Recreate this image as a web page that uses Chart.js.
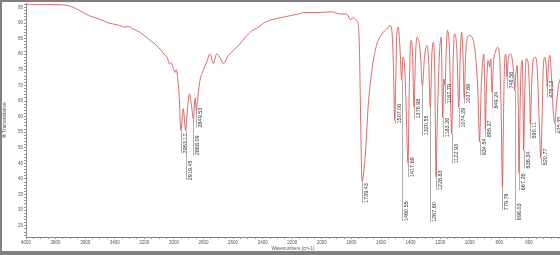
<!DOCTYPE html>
<html>
<head>
<meta charset="utf-8">
<script src="https://cdn.jsdelivr.net/npm/chart.js@4.4.1/dist/chart.umd.min.js"></script>
<style>
	html, body { margin: 0; padding: 0; background: #fff; }
</style>
</head>
<body>
<canvas id="ir" width="560" height="255"></canvas>
<script>
"use strict";

var wavenumbers = [
	4000, 3900, 3800, 3740, 3700, 3660, 3620, 3570, 3500, 3440, 3380, 3330, 3310, 3280, 3230, 3190,
	3160, 3120, 3085, 3060, 3045, 3031, 3018, 3004, 2991, 2984, 2973, 2964, 2953, 2937, 2921, 2908,
	2896, 2883, 2868, 2860, 2856, 2849, 2838, 2824, 2802, 2779, 2756, 2734, 2711, 2684, 2666, 2632,
	2599, 2553, 2521, 2476, 2431, 2386, 2318, 2250, 2160, 2115, 2024, 1934, 1878, 1832, 1805, 1788,
	1770, 1756, 1746, 1738, 1731, 1727, 1720, 1709, 1697, 1686, 1670, 1652, 1635, 1619, 1585, 1551,
	1540, 1528, 1517, 1507, 1500, 1494, 1483, 1472, 1460, 1452, 1443, 1432, 1417, 1410, 1398, 1388,
	1376, 1368, 1357, 1337, 1320, 1306, 1290, 1278, 1267, 1256, 1245, 1236, 1228, 1220, 1205, 1193,
	1183, 1175, 1167, 1160, 1152, 1138, 1122, 1112, 1104, 1088, 1074, 1064, 1055, 1046, 1037, 1028,
	1005, 985, 960, 945, 934, 922, 910, 905, 899, 895, 888, 876, 865, 858, 849, 840,
	825, 812, 798, 788, 779, 772, 764, 756, 748, 740, 726, 712, 702, 696, 688, 680,
	672, 667, 660, 652, 645, 641, 636, 628, 618, 605, 596, 590, 582, 570, 558, 545,
	530, 520, 510, 503, 492, 482, 476, 468, 458, 448, 436, 425, 414, 400, 390
];
var transmittance = [
	96.0, 96.0, 95.9, 95.8, 95.4, 94.6, 93.5, 92.3, 91.2, 90.0, 89.4, 88.7, 88.9, 88.2, 87.0, 85.6,
	84.4, 82.9, 81.2, 79.6, 79.0, 76.9, 77.3, 75.4, 74.2, 75.0, 71.6, 66.0, 55.6, 62.5, 55.6, 62.5,
	67.3, 64.2, 59.3, 65.0, 66.0, 62.0, 66.5, 71.6, 74.8, 77.4, 80.1, 77.0, 80.1, 78.5, 77.0, 79.6,
	81.2, 83.3, 85.2, 87.4, 88.6, 90.2, 91.3, 92.0, 92.9, 93.4, 93.4, 93.6, 92.9, 92.9, 91.0, 91.8,
	91.0, 90.0, 82.0, 60.0, 42.0, 39.2, 41.0, 46.0, 55.0, 64.0, 71.6, 78.0, 82.0, 84.4, 87.0, 88.6,
	89.2, 88.1, 78.0, 58.8, 72.0, 86.0, 88.6, 82.0, 71.6, 79.0, 78.0, 66.0, 45.0, 66.0, 84.4, 81.5,
	63.0, 78.0, 85.4, 82.0, 70.0, 79.0, 82.8, 78.0, 63.0, 80.0, 83.8, 72.0, 40.7, 58.0, 80.1, 85.4,
	59.7, 72.0, 70.0, 80.0, 87.6, 82.0, 54.6, 78.0, 86.5, 82.0, 63.0, 80.0, 87.0, 80.0, 65.8, 80.0,
	86.0, 85.5, 79.0, 68.0, 52.0, 70.0, 79.0, 80.1, 70.0, 56.0, 68.0, 78.0, 76.0, 78.5, 67.8, 77.0,
	81.0, 82.2, 79.0, 62.0, 37.5, 60.0, 78.0, 80.0, 72.6, 78.5, 80.1, 78.0, 73.0, 68.4, 74.0, 76.5,
	62.0, 41.8, 62.0, 76.0, 78.0, 70.0, 49.2, 68.0, 78.6, 77.0, 68.0, 57.5, 70.0, 78.5, 79.0, 76.0,
	58.0, 46.8, 62.0, 76.0, 79.0, 75.0, 69.5, 77.0, 79.6, 73.0, 62.0, 57.8, 64.0, 70.0, 72.0
];

// peak picks : marker position, printed value, %T where the label ends
var peakWn = [2953, 2921, 2868, 2849, 1727, 1507, 1460, 1417, 1376, 1320, 1267, 1228, 1183, 1167, 1122,
	1074, 1037, 934, 895, 849, 779, 748, 696, 667, 636, 590, 520, 476, 425];
var peakText = ["2953.17", "2919.45", "2868.09", "2849.53", "1739.43", "1507.06", "1460.55", "1417.69",
	"1376.98", "1320.55", "1267.60", "1228.83", "1183.26", "1167.79", "1122.93", "1074.29", "1037.66",
	"934.54", "895.37", "849.24", "779.76", "748.56", "696.03", "667.26", "636.34", "590.11", "520.77",
	"476.12", "425.35"];
var peakLabelEnd = [48.2, 39.6, 47.6, 56.5, 32.3, 57.8, 26.5, 40.6, 59.4, 54.0, 26.2, 36.4, 53.4, 64.2, 45.0,
	56.5, 64.2, 47.6, 53.4, 62.6, 30.0, 69.0, 26.8, 36.4, 43.4, 53.0, 44.4, 66.1, 54.6];

// axis ticks
var xTickLabels = [4000, 3800, 3600, 3400, 3200, 3000, 2800, 2600, 2400, 2200, 2000, 1800, 1600, 1400, 1200, 1000, 800, 600];
var yTickLabels = [95, 90, 85, 80, 75, 70, 65, 60, 55, 50, 45, 40, 35, 30, 25];
var X_MINOR = 50, Y_MINOR = 1;

var FONT = "'Liberation Sans', Arial, sans-serif";

function transAt(w) {
	for (var i = 0; i < wavenumbers.length - 1; i++) {
		var a = wavenumbers[i], b = wavenumbers[i + 1];
		if (w <= a && w >= b) {
			return transmittance[i] + (transmittance[i + 1] - transmittance[i]) * (a - w) / (a - b);
		}
	}
	return transmittance[transmittance.length - 1];
}

var frame = {
	id: "frame",
	beforeDraw: function (chart) {
		var ctx = chart.ctx;
		ctx.save();
		ctx.fillStyle = "#fff";
		ctx.fillRect(0, 0, chart.width, chart.height);
		ctx.restore();
	},
	afterDraw: function (chart) {
		var ctx = chart.ctx;
		ctx.save();
		ctx.fillStyle = "#808080";
		ctx.fillRect(0, 0, chart.width, 2);
		ctx.fillRect(0, 0, 2, chart.height);
		ctx.fillRect(0, chart.height - 4, chart.width, 4);
		ctx.restore();
	}
};

var peakMarks = {
	id: "peakMarks",
	afterDatasetsDraw: function (chart) {
		var ctx = chart.ctx, xs = chart.scales.x, ys = chart.scales.y;
		ctx.save();
		ctx.font = "5.5px " + FONT;
		ctx.textAlign = "left";
		ctx.textBaseline = "top";
		ctx.fillStyle = "#333";
		ctx.strokeStyle = "#9a9a9a";
		ctx.lineWidth = 0.8;
		peakWn.forEach(function (w, i) {
			var px = Math.round(xs.getPixelForValue(w)) + 0.5;
			var tip = ys.getPixelForValue(transAt(w));
			var end = ys.getPixelForValue(peakLabelEnd[i]);
			ctx.beginPath();
			ctx.moveTo(px, tip);
			ctx.lineTo(px, end);
			ctx.stroke();
			ctx.save();
			ctx.translate(px + 1, end);
			ctx.rotate(-Math.PI / 2);
			ctx.fillText(peakText[i], 0, 0);
			ctx.restore();
		});
		ctx.restore();
	}
};

var points = wavenumbers.map(function (w, i) { return { x: w, y: transmittance[i] }; });

new Chart(document.getElementById("ir"), {
	type: "line",
	data: {
		datasets: [{
			data: points,
			borderColor: "rgb(214, 70, 70)",
			borderWidth: 0.8,
			pointRadius: 0,
			cubicInterpolationMode: "monotone",
			fill: false
		}]
	},
	options: {
		responsive: false,
		animation: false,
		devicePixelRatio: 1,
		layout: { padding: { top: 3, left: 0, right: 0, bottom: 4 } },
		plugins: { legend: { display: false }, tooltip: { enabled: false } },
		scales: {
			x: {
				type: "linear",
				reverse: true,
				min: 390,
				max: 4000,
				afterBuildTicks: function (s) {
					var t = [];
					for (var v = 400; v <= 4000; v += X_MINOR) t.push({ value: v });
					s.ticks = t;
				},
				afterFit: function (s) { s.height = 14; },
				ticks: {
					autoSkip: false,
					maxRotation: 0,
					padding: 1,
					color: "#555",
					font: { family: FONT, size: 4.5 },
					callback: function (v) { return xTickLabels.indexOf(v) >= 0 ? String(v) : ""; }
				},
				grid: { drawOnChartArea: false, tickLength: 2, color: "#999" },
				border: { color: "#888" },
				title: {
					display: true,
					text: "Wavenumbers (cm-1)",
					color: "#555",
					font: { family: FONT, size: 4.5 },
					padding: { top: 0, bottom: 0 }
				}
			},
			y: {
				min: 21.4,
				max: 96.2,
				afterBuildTicks: function (s) {
					var t = [];
					for (var v = 22; v <= 96; v += Y_MINOR) t.push({ value: v });
					s.ticks = t;
				},
				afterFit: function (s) { s.width = 26; },
				ticks: {
					autoSkip: false,
					padding: 1,
					color: "#555",
					font: { family: FONT, size: 4.5 },
					callback: function (v) { return yTickLabels.indexOf(v) >= 0 ? String(v) : ""; }
				},
				grid: { drawOnChartArea: false, tickLength: 2, color: "#999" },
				border: { color: "#888" },
				title: {
					display: true,
					text: "% Transmittance",
					color: "#555",
					font: { family: FONT, size: 4.8 },
					padding: { top: 2, bottom: 0 }
				}
			}
		}
	},
	plugins: [frame, peakMarks]
});
</script>
</body>
</html>
